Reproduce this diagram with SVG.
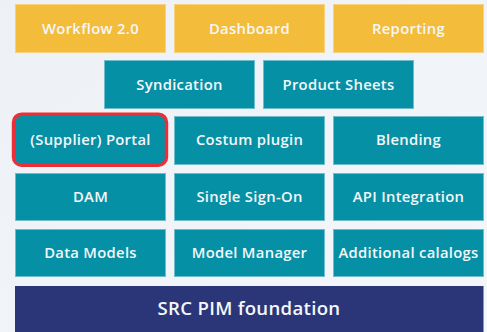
<svg xmlns="http://www.w3.org/2000/svg" width="487" height="332" viewBox="0 0 487 332">
<defs>
<linearGradient id="bg" x1="0" y1="0" x2="1" y2="1">
<stop offset="0" stop-color="#EDF1F5"/>
<stop offset="1" stop-color="#F4F6FA"/>
</linearGradient>
<style>
.y{fill:#F3BC3A;stroke:#F6D27E;stroke-width:1}
.t{fill:#0590A5;stroke:#6FBCCB;stroke-width:1}
.n{fill:#2B3679}
text{font-family:"Open Sans","Liberation Sans",sans-serif;font-weight:600;font-size:14.8px;letter-spacing:0.3px;fill:#F4F7FA;text-anchor:middle}
.big{font-size:18.6px;letter-spacing:0.3px}
</style>
</defs>
<rect width="487" height="332" fill="url(#bg)"/>
<g id="workflow"><rect class="y" x="15.5" y="4.5" width="150" height="48"/><text x="90.5" y="33.5">Workflow 2.0</text></g>
<g id="dashboard"><rect class="y" x="174.5" y="4.5" width="150" height="48"/><text x="249.5" y="33.5">Dashboard</text></g>
<g id="reporting"><rect class="y" x="333.5" y="4.5" width="150" height="48"/><text x="408.5" y="33.5">Reporting</text></g>
<g id="syndication"><rect class="t" x="104.5" y="60.5" width="150" height="48"/><text x="179.5" y="89.5">Syndication</text></g>
<g id="product-sheets"><rect class="t" x="263.5" y="60.5" width="150" height="48"/><text x="338.5" y="89.5">Product Sheets</text></g>
<g id="portal"><rect x="13.5" y="114.2" width="153" height="51" rx="8" fill="#0590A5" stroke="#EC2F36" stroke-width="3.4"/><text x="90.5" y="145">(Supplier) Portal</text></g>
<g id="costum-plugin"><rect class="t" x="174.5" y="116.5" width="150" height="48"/><text x="249.5" y="145">Costum plugin</text></g>
<g id="blending"><rect class="t" x="333.5" y="116.5" width="150" height="48"/><text x="408.5" y="145">Blending</text></g>
<g id="dam"><rect class="t" x="15.5" y="173.5" width="150" height="47"/><text x="90.5" y="202">DAM</text></g>
<g id="sso"><rect class="t" x="174.5" y="173.5" width="150" height="47"/><text x="249.5" y="202">Single Sign-On</text></g>
<g id="api"><rect class="t" x="333.5" y="173.5" width="150" height="47"/><text x="408.5" y="202">API Integration</text></g>
<g id="data-models"><rect class="t" x="15.5" y="229.5" width="150" height="47"/><text x="90.5" y="258">Data Models</text></g>
<g id="model-manager"><rect class="t" x="174.5" y="229.5" width="150" height="47"/><text x="249.5" y="258">Model Manager</text></g>
<g id="catalogs"><rect class="t" x="333.5" y="229.5" width="150" height="47"/><text x="408.5" y="258">Additional calalogs</text></g>
<g id="foundation"><rect class="n" x="15" y="286" width="468.5" height="46"/><text class="big" x="249" y="314.5">SRC PIM foundation</text></g>
<g id="connectors"/>
</svg>
